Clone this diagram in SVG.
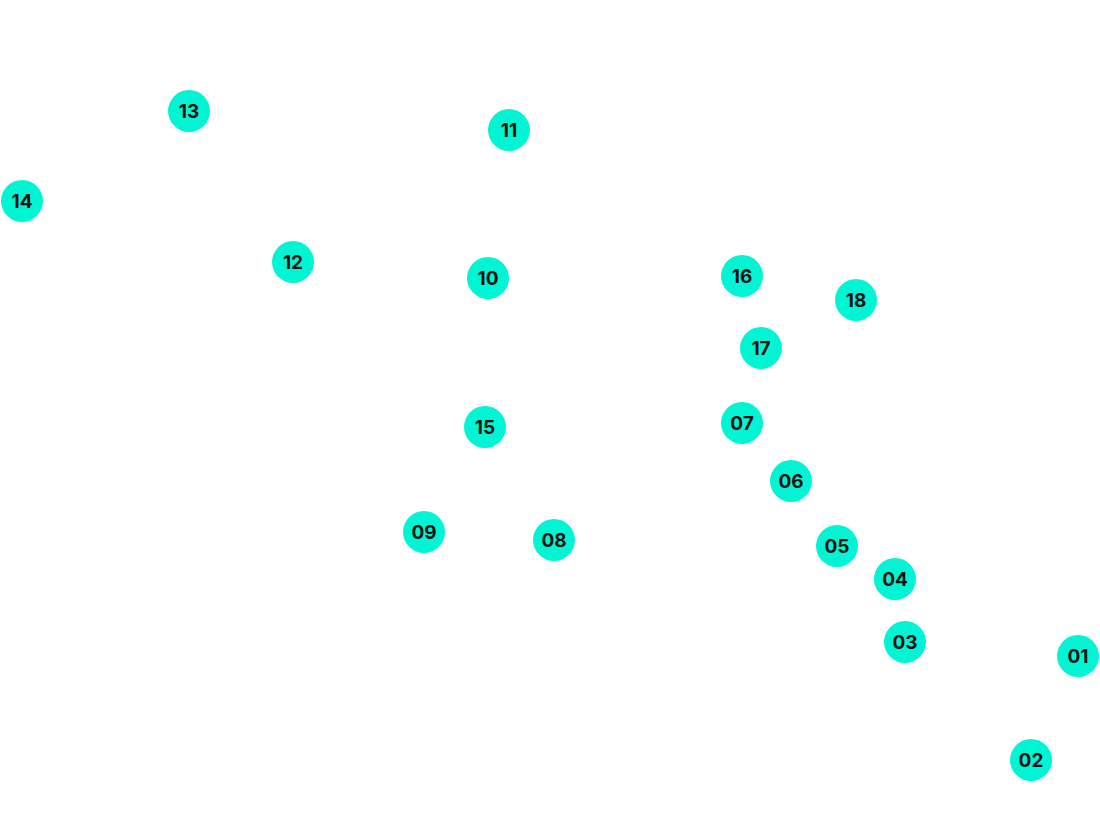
<svg xmlns="http://www.w3.org/2000/svg" width="1100" height="818" viewBox="0 0 1100 818">
<style>circle{fill:#00f5d4}text{font-family:Inter,"Liberation Sans",sans-serif;font-weight:700;font-size:19px;fill:#111;text-anchor:middle;dominant-baseline:central}</style>
<rect width="1100" height="818" fill="#fff"/>
<g id="connectors"/>
<g id="n13"><circle cx="189" cy="111" r="21"/><text x="189" y="111">13</text></g>
<g id="n11"><circle cx="509" cy="130" r="21"/><text x="509" y="130">11</text></g>
<g id="n14"><circle cx="22" cy="201" r="21"/><text x="22" y="201">14</text></g>
<g id="n12"><circle cx="293" cy="262" r="21"/><text x="293" y="262">12</text></g>
<g id="n10"><circle cx="488" cy="278" r="21"/><text x="488" y="278">10</text></g>
<g id="n16"><circle cx="742" cy="276" r="21"/><text x="742" y="276">16</text></g>
<g id="n18"><circle cx="856" cy="300" r="21"/><text x="856" y="300">18</text></g>
<g id="n17"><circle cx="761" cy="348" r="21"/><text x="761" y="348">17</text></g>
<g id="n15"><circle cx="485" cy="427" r="21"/><text x="485" y="427">15</text></g>
<g id="n07"><circle cx="742" cy="423" r="21"/><text x="742" y="423">07</text></g>
<g id="n06"><circle cx="791" cy="481" r="21"/><text x="791" y="481">06</text></g>
<g id="n09"><circle cx="424" cy="532" r="21"/><text x="424" y="532">09</text></g>
<g id="n08"><circle cx="554" cy="540" r="21"/><text x="554" y="540">08</text></g>
<g id="n05"><circle cx="837" cy="546" r="21"/><text x="837" y="546">05</text></g>
<g id="n04"><circle cx="895" cy="579" r="21"/><text x="895" y="579">04</text></g>
<g id="n03"><circle cx="905" cy="642" r="21"/><text x="905" y="642">03</text></g>
<g id="n01"><circle cx="1078" cy="656" r="21"/><text x="1078" y="656">01</text></g>
<g id="n02"><circle cx="1031" cy="760" r="21"/><text x="1031" y="760">02</text></g>
</svg>
